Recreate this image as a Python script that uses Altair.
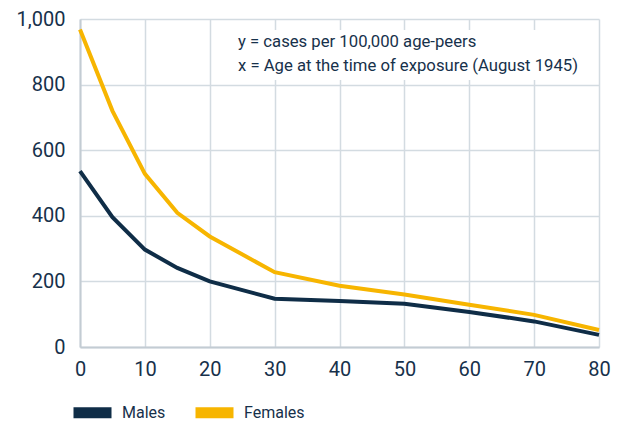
import altair as alt
import pandas as pd

ages = [0, 5, 10, 15, 20, 30, 40, 50, 60, 70, 80]
males = [536, 396, 297, 241, 200, 147, 140, 132, 107, 78, 37]
females = [968, 720, 528, 409, 337, 228, 187, 160, 129, 98, 52]
series = ["Males", "Females"]
colors = ["#0f2d47", "#f7b500"]
note_lines = ["y = cases per 100,000 age-peers", "x = Age at the time of exposure (August 1945)"]

rows = []
for a, m, f in zip(ages, males, females):
    rows.append({"age": a, "value": m, "sex": "Males"})
    rows.append({"age": a, "value": f, "sex": "Females"})
df = pd.DataFrame(rows)

FONT = "Roboto"
TXT = "#17314b"

lines = alt.Chart(df).mark_line(strokeWidth=4).encode(
    x=alt.X("age:Q", scale=alt.Scale(domain=[0, 80], nice=False),
            axis=alt.Axis(values=list(range(0, 81, 10)), title=None)),
    y=alt.Y("value:Q", scale=alt.Scale(domain=[0, 1000], nice=False),
            axis=alt.Axis(values=list(range(0, 1001, 200)), format=",.0f", title=None)),
    color=alt.Color("sex:N", scale=alt.Scale(domain=series, range=colors),
                    legend=alt.Legend(title=None, orient="none", direction="horizontal",
                                      legendX=-12, legendY=369,
                                      symbolType="M-1,0H1", symbolSize=1444,
                                      symbolStrokeWidth=11, symbolOpacity=1,
                                      labelFontSize=16, labelFont=FONT, labelColor=TXT,
                                      labelOffset=5, columnPadding=7)),
)

box = alt.Chart(pd.DataFrame({"k": [0]})).mark_rect(color="white").encode(
    x=alt.value(135), x2=alt.value(516), y=alt.value(11), y2=alt.value(61)
)

note1 = alt.Chart(pd.DataFrame({"t": [note_lines[0]]})).mark_text(
    align="left", baseline="alphabetic", fontSize=16.7, font=FONT, color=TXT
).encode(x=alt.value(158), y=alt.value(28), text="t:N")

note2 = alt.Chart(pd.DataFrame({"t": [note_lines[1]]})).mark_text(
    align="left", baseline="alphabetic", fontSize=16.7, font=FONT, color=TXT
).encode(x=alt.value(158), y=alt.value(52), text="t:N")

chart = alt.layer(lines, box, note1, note2).properties(
    width=519, height=328,
    autosize=alt.AutoSizeParams(type="none"),
    padding={"left": 72, "top": 11, "right": 15, "bottom": 74},
).configure_view(stroke=None).configure_axis(
    labelFont=FONT, labelFontSize=20, labelColor=TXT, grid=True, gridColor="#d3dbe1",
    gridWidth=1.5, domainColor="#c3ccd3", domainWidth=2, ticks=False, labelFlush=False,
).configure_axisX(labelPadding=12).configure_axisY(labelPadding=15)

chart.save("out.html", embed_options={"renderer": "svg", "actions": False})
